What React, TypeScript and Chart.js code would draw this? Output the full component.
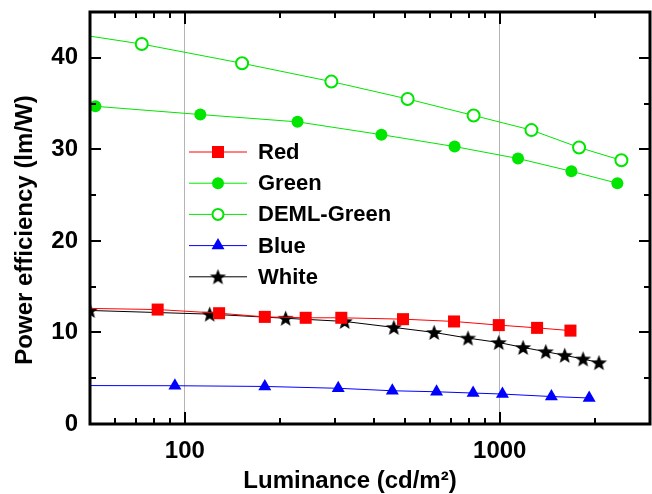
import React, { useEffect, useRef } from 'react';
import { Chart, registerables } from 'chart.js';

Chart.register(...registerables);

// ---- data ----
const seriesNames = ['Red', 'Green', 'DEML-Green', 'Blue', 'White'];

const redX = [45, 82, 128.5, 179.5, 242, 314, 493, 716, 993, 1314, 1677];
const redY = [12.65, 12.5, 12.1, 11.7, 11.6, 11.6, 11.45, 11.2, 10.8, 10.5, 10.2];

const greenX = [52, 112, 228, 421, 719, 1143, 1689, 2363];
const greenY = [34.7, 33.8, 33.0, 31.6, 30.3, 29.0, 27.6, 26.3];

const demlX = [45, 73, 152, 292, 510, 826, 1261, 1786, 2434];
const demlY = [42.6, 41.5, 39.4, 37.4, 35.5, 33.7, 32.1, 30.2, 28.8];

const blueX = [45, 93, 179.5, 307, 456, 630, 823, 1020, 1459, 1923];
const blueY = [4.2, 4.18, 4.1, 3.9, 3.63, 3.52, 3.38, 3.27, 3.0, 2.84];

const whiteX = [50, 120, 209, 322, 461, 619, 793, 993, 1186, 1400, 1608, 1839, 2066];
const whiteY = [12.4, 12.0, 11.55, 11.2, 10.55, 10.0, 9.38, 8.9, 8.36, 7.9, 7.5, 7.1, 6.7];

const xMajorTicks = [100, 1000];
const xMinorTicks = [60, 70, 80, 90, 200, 300, 400, 500, 600, 700, 800, 900, 2000];
const yMajorTicks = [0, 10, 20, 30, 40];
const yMinorTicks = [5, 15, 25, 35];

const xTitle = 'Luminance (cd/m²)';
const yTitle = 'Power efficiency (lm/W)';

const FONT = "'Liberation Sans', Arial, sans-serif";
const RED = '#ff0000';
const GREEN = '#00e600';
const BLUE = '#0000ff';
const BLACK = '#000000';

function pts(xs: number[], ys: number[]) {
  return xs.map((x, i) => ({ x, y: ys[i] }));
}

function makeStar(size: number, outer: number, inner: number): HTMLCanvasElement {
  const c = document.createElement('canvas');
  c.width = size;
  c.height = size;
  const ctx = c.getContext('2d')!;
  const cx = size / 2;
  const cy = size / 2 + 0.7;
  ctx.beginPath();
  for (let i = 0; i < 10; i++) {
    const r = i % 2 === 0 ? outer : inner;
    const a = -Math.PI / 2 + (i * Math.PI) / 5;
    const px = cx + r * Math.cos(a);
    const py = cy + r * Math.sin(a);
    if (i === 0) ctx.moveTo(px, py);
    else ctx.lineTo(px, py);
  }
  ctx.closePath();
  ctx.fillStyle = '#000';
  ctx.fill();
  return c;
}

function zeroPad(scale: any) {
  scale.paddingTop = 0;
  scale.paddingBottom = 0;
  scale.paddingLeft = 0;
  scale.paddingRight = 0;
}

export default function App() {
  const ref = useRef<HTMLCanvasElement | null>(null);

  useEffect(() => {
    if (!ref.current) return;
    const star = makeStar(19, 8.5, 3.6);

    const framePlugin = {
      id: 'frameTicks',
      afterDatasetsDraw(chart: any) {
        const { ctx, chartArea } = chart;
        const { left, right, top, bottom } = chartArea;
        const xs = chart.scales.x;
        const ys = chart.scales.y;
        ctx.save();
        ctx.strokeStyle = '#000';
        ctx.lineWidth = 2;
        ctx.beginPath();
        const xt = (vals: number[], len: number) => {
          vals.forEach((v) => {
            const p = Math.round(xs.getPixelForValue(v));
            ctx.moveTo(p, bottom);
            ctx.lineTo(p, bottom - len);
            ctx.moveTo(p, top);
            ctx.lineTo(p, top + len);
          });
        };
        const yt = (vals: number[], len: number) => {
          vals.forEach((v) => {
            const p = Math.round(ys.getPixelForValue(v));
            ctx.moveTo(left, p);
            ctx.lineTo(left + len, p);
            ctx.moveTo(right, p);
            ctx.lineTo(right - len, p);
          });
        };
        xt(xMajorTicks, 12);
        xt(xMinorTicks, 6);
        yt(yMajorTicks, 11);
        yt(yMinorTicks, 6);
        ctx.stroke();
        ctx.lineWidth = 3;
        ctx.strokeRect(left, top, right - left, bottom - top);
        ctx.restore();

        // axis titles
        ctx.save();
        ctx.fillStyle = '#000';
        ctx.font = `bold 24px ${FONT}`;
        ctx.textAlign = 'center';
        ctx.textBaseline = 'middle';
        ctx.fillText(xTitle, 350, 481);
        ctx.translate(25, 230);
        ctx.rotate(-Math.PI / 2);
        ctx.fillText(yTitle, 0, 0);
        ctx.restore();

        // legend
        const items = [
          { label: seriesNames[0], color: RED, kind: 'square' },
          { label: seriesNames[1], color: GREEN, kind: 'circle' },
          { label: seriesNames[2], color: GREEN, kind: 'open' },
          { label: seriesNames[3], color: BLUE, kind: 'tri' },
          { label: seriesNames[4], color: BLACK, kind: 'star' },
        ];
        const lx0 = 189;
        const lx1 = 247;
        const mx = 218;
        const tx = 258;
        const y0 = 152;
        const dy = 31.2;
        ctx.save();
        items.forEach((it, i) => {
          const yy = y0 + i * dy;
          ctx.strokeStyle = it.color;
          ctx.lineWidth = 1;
          ctx.beginPath();
          ctx.moveTo(lx0, yy);
          ctx.lineTo(lx1, yy);
          ctx.stroke();
          ctx.fillStyle = it.color;
          if (it.kind === 'square') {
            ctx.fillRect(mx - 6, yy - 6, 12, 12);
          } else if (it.kind === 'circle') {
            ctx.beginPath();
            ctx.arc(mx, yy, 6, 0, Math.PI * 2);
            ctx.fill();
          } else if (it.kind === 'open') {
            ctx.beginPath();
            ctx.arc(mx, yy, 5.5, 0, Math.PI * 2);
            ctx.fillStyle = '#fff';
            ctx.fill();
            ctx.lineWidth = 2;
            ctx.stroke();
          } else if (it.kind === 'tri') {
            const r = 7.5;
            ctx.beginPath();
            ctx.moveTo(mx, yy - r);
            ctx.lineTo(mx + r * Math.sin((2 * Math.PI) / 3), yy - r * Math.cos((2 * Math.PI) / 3));
            ctx.lineTo(mx + r * Math.sin((4 * Math.PI) / 3), yy - r * Math.cos((4 * Math.PI) / 3));
            ctx.closePath();
            ctx.fill();
          } else {
            ctx.drawImage(star, mx - star.width / 2, yy - star.height / 2);
          }
          ctx.fillStyle = '#000';
          ctx.font = `bold 22px ${FONT}`;
          ctx.textBaseline = 'middle';
          ctx.textAlign = 'left';
          ctx.fillText(it.label, tx, yy + 1);
        });
        ctx.restore();
      },
    };

    const chart = new Chart(ref.current, {
      type: 'line',
      data: {
        datasets: [
          {
            label: seriesNames[0],
            data: pts(redX, redY),
            borderColor: RED,
            backgroundColor: RED,
            borderWidth: 1,
            pointStyle: 'rect',
            pointRadius: 8.5,
            pointBorderWidth: 0,
          },
          {
            label: seriesNames[1],
            data: pts(greenX, greenY),
            borderColor: GREEN,
            backgroundColor: GREEN,
            borderWidth: 1,
            pointStyle: 'circle',
            pointRadius: 6,
            pointBorderWidth: 0,
          },
          {
            label: seriesNames[2],
            data: pts(demlX, demlY),
            borderColor: GREEN,
            backgroundColor: '#ffffff',
            borderWidth: 1,
            pointStyle: 'circle',
            pointRadius: 6,
            pointBorderWidth: 2,
          },
          {
            label: seriesNames[3],
            data: pts(blueX, blueY),
            borderColor: BLUE,
            backgroundColor: BLUE,
            borderWidth: 1,
            pointStyle: 'triangle',
            pointRadius: 7.5,
            pointBorderWidth: 0,
          },
          {
            label: seriesNames[4],
            data: pts(whiteX, whiteY),
            borderColor: BLACK,
            backgroundColor: BLACK,
            borderWidth: 1,
            pointStyle: star as any,
            pointRadius: 8,
            pointBorderWidth: 0,
          },
        ],
      },
      options: {
        animation: false,
        responsive: false,
        events: [],
        layout: { autoPadding: false, padding: { top: 12, right: 2, left: 0, bottom: 0 } },
        plugins: {
          legend: { display: false },
          tooltip: { enabled: false },
        },
        elements: { line: { tension: 0 } },
        scales: {
          x: {
            type: 'logarithmic',
            min: 50,
            max: 3000,
            afterBuildTicks: (scale: any) => {
              scale.ticks = xMajorTicks.map((v) => ({ value: v }));
            },
            afterFit: (scale: any) => {
              scale.height = 70;
              zeroPad(scale);
            },
            ticks: {
              color: '#000',
              font: { family: FONT, size: 24, weight: 'bold' },
              padding: 13,
              autoSkip: false,
              maxRotation: 0,
              callback: (v: any) => String(v),
            },
            grid: {
              display: true,
              drawTicks: false,
              color: '#b4b4b4',
              lineWidth: 1,
            },
            border: { display: false },
            title: { display: false, text: xTitle },
          },
          y: {
            type: 'linear',
            min: 0,
            max: 45,
            afterBuildTicks: (scale: any) => {
              scale.ticks = yMajorTicks.map((v) => ({ value: v }));
            },
            afterFit: (scale: any) => {
              scale.width = 90;
              zeroPad(scale);
            },
            ticks: {
              color: '#000',
              font: { family: FONT, size: 24, weight: 'bold' },
              padding: 12,
            },
            grid: { display: false, drawTicks: false },
            border: { display: false },
            title: { display: false, text: yTitle },
          },
        },
      },
      plugins: [framePlugin],
    } as any);

    return () => chart.destroy();
  }, []);

  return (
    <div style={{ position: 'absolute', left: 0, top: 0, width: 652, height: 494, background: '#fff' }}>
      <canvas ref={ref} width={652} height={494} style={{ width: 652, height: 494, display: 'block' }} />
    </div>
  );
}
